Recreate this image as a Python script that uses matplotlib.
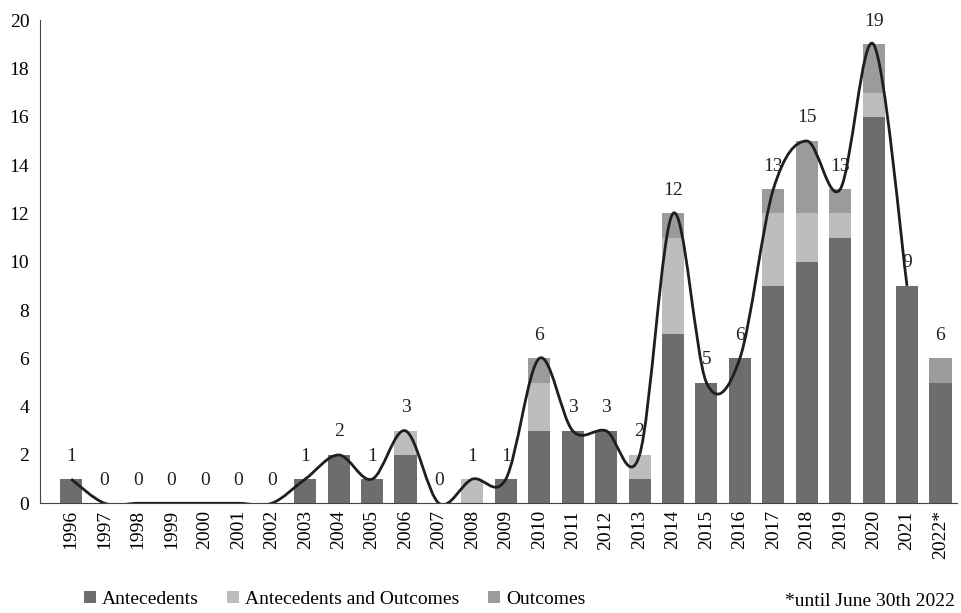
import numpy as np
import matplotlib
matplotlib.use("Agg")
import matplotlib.pyplot as plt
from matplotlib.path import Path
from matplotlib.patches import PathPatch

plt.rcParams['font.family'] = ['Liberation Serif', 'DejaVu Serif']

years = ['1996', '1997', '1998', '1999', '2000', '2001', '2002', '2003', '2004',
         '2005', '2006', '2007', '2008', '2009', '2010', '2011', '2012', '2013',
         '2014', '2015', '2016', '2017', '2018', '2019', '2020', '2021', '2022*']
antecedents = [1, 0, 0, 0, 0, 0, 0, 1, 2, 1, 2, 0, 0, 1, 3, 3, 3, 1, 7, 5, 6, 9, 10, 11, 16, 9, 5]
ant_out = [0, 0, 0, 0, 0, 0, 0, 0, 0, 0, 1, 0, 1, 0, 2, 0, 0, 1, 4, 0, 0, 3, 2, 1, 1, 0, 0]
outcomes = [0, 0, 0, 0, 0, 0, 0, 0, 0, 0, 0, 0, 0, 0, 1, 0, 0, 0, 1, 0, 0, 1, 3, 1, 2, 0, 1]

totals = np.array(antecedents) + np.array(ant_out) + np.array(outcomes)
x = np.arange(len(years))

fig = plt.figure(figsize=(9.62, 6.13), dpi=100)
ax = fig.add_axes([0.042, 0.179, 0.953, 0.788])

c_a, c_ao, c_o = '#6d6d6d', '#bdbdbd', '#9b9b9b'
w = 0.66
ax.bar(x, antecedents, width=w, color=c_a, label='Antecedents')
ax.bar(x, ant_out, width=w, bottom=antecedents, color=c_ao, label='Antecedents and Outcomes')
ax.bar(x, outcomes, width=w, bottom=np.array(antecedents) + np.array(ant_out),
       color=c_o, label='Outcomes')

# smoothed line (Excel-like bezier) through totals, 1996-2021
px = x[:-1].astype(float)
py = totals[:-1].astype(float)
n = len(px)
verts = [(px[0], py[0])]
codes = [Path.MOVETO]
for i in range(n - 1):
    p0 = (px[max(i - 1, 0)], py[max(i - 1, 0)])
    p1 = (px[i], py[i])
    p2 = (px[i + 1], py[i + 1])
    p3 = (px[min(i + 2, n - 1)], py[min(i + 2, n - 1)])
    c1 = (p1[0] + (p2[0] - p0[0]) / 6, p1[1] + (p2[1] - p0[1]) / 6)
    c2 = (p2[0] - (p3[0] - p1[0]) / 6, p2[1] - (p3[1] - p1[1]) / 6)
    verts += [c1, c2, p2]
    codes += [Path.CURVE4] * 3
ax.add_patch(PathPatch(Path(verts, codes), fill=False, edgecolor='#1e1e1e', lw=2))

for xi, t in zip(x, totals):
    ax.text(xi, t + 0.6, str(t), ha='center', va='bottom', fontsize=14, color='#222222')

ax.set_xlim(-0.92, 26.5)
ax.set_ylim(0, 20)
ax.set_yticks(range(0, 21, 2))
ax.set_xticks(x)
ax.set_xticklabels(years, rotation=90, fontsize=14)
ax.tick_params(axis='y', labelsize=14, length=0, pad=8)
ax.tick_params(axis='x', length=0, pad=5)
for s in ['top', 'right']:
    ax.spines[s].set_visible(False)
ax.spines['left'].set_color('#444444')
ax.spines['bottom'].set_color('#444444')

fig.legend(loc='center left', bbox_to_anchor=(0.069, 0.022), ncol=3, frameon=False,
           fontsize=14, handlelength=0.6, handleheight=0.6, handletextpad=0.3,
           columnspacing=1.5)
fig.text(0.993, 0.018, '*until June 30th 2022', ha='right', va='center', fontsize=14)

fig.savefig('out.png', dpi=100)
